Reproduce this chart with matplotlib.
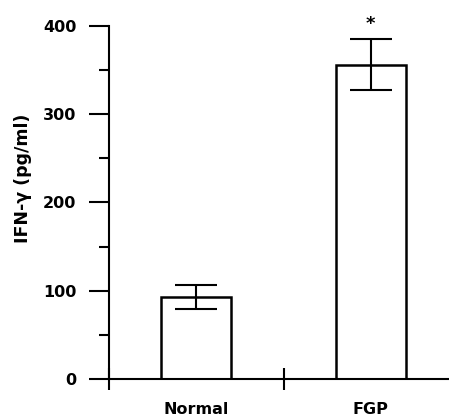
import matplotlib.pyplot as plt
import numpy as np

# values
groups = ['Normal', 'FGP']
ifn_mean = [93, 356]
ifn_sem = [14, 29]
sig_marks = ['', '*']

ftsz = 11.5
plt.rcParams['font.family'] = ['DejaVu Sans']
plt.rcParams['font.weight'] = 'bold'

fig = plt.figure(figsize=(4.49, 4.18), dpi=100)
ax = fig.add_axes([0.2428, 0.0933, 0.7572, 0.845])

x = np.arange(len(groups))
ax.bar(x, ifn_mean, width=0.40, color='white', edgecolor='black', linewidth=1.8)
ax.errorbar(x, ifn_mean, yerr=ifn_sem, fmt='none', ecolor='black',
            elinewidth=1.5, capsize=15, capthick=1.5)

# significance marker above the error bar
for xi, m, e, s in zip(x, ifn_mean, ifn_sem, sig_marks):
    if s:
        ax.text(xi, m + e + 7, s, ha='center', va='bottom', fontsize=13,
                fontweight='bold', clip_on=False)

ax.set_xlim(-0.5, 1.448)
ax.set_ylim(0, 400)

# y axis
ax.set_yticks([0, 100, 200, 300, 400])
ax.set_yticks([50, 150, 250, 350], minor=True)
ax.tick_params(axis='y', which='major', direction='out', length=14.5, width=1.5,
               pad=9, labelsize=ftsz)
ax.tick_params(axis='y', which='minor', direction='out', length=7, width=1.5)
ax.set_ylabel('IFN-γ (pg/ml)', fontsize=12.5, fontweight='bold')
ax.yaxis.set_label_coords(-0.226, 0.569)

# x axis: labels at the bars, separator ticks between groups
ax.set_xticks(x)
ax.set_xticklabels(groups)
ax.set_xticks([-0.5, 0.5], minor=True)
ax.tick_params(axis='x', which='major', length=0, pad=16.5, labelsize=ftsz)
ax.tick_params(axis='x', which='minor', direction='inout', length=16, width=1.5)

for lbl in ax.get_xticklabels() + ax.get_yticklabels():
    lbl.set_fontweight('bold')

ax.spines['top'].set_visible(False)
ax.spines['right'].set_visible(False)
ax.spines['left'].set_linewidth(1.5)
ax.spines['bottom'].set_linewidth(1.5)

plt.savefig('out.png', dpi=100)
